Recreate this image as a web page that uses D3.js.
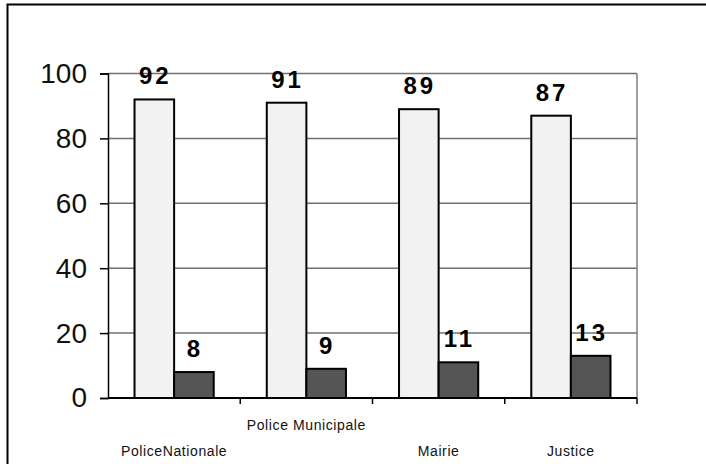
<!DOCTYPE html>
<html>
<head>
<meta charset="utf-8">
<script src="https://cdn.jsdelivr.net/npm/d3@7"></script>
<style>
  body { margin: 0; background: #fff; }
  svg { display: block; font-family: "Liberation Sans", Arial, sans-serif; }
</style>
</head>
<body>
<div class="chart"></div>
<script>
var categories = ["PoliceNationale", "Police Municipale", "Mairie", "Justice"];
var oui = [92, 91, 89, 87];
var non = [8, 9, 11, 13];
var yTicks = [0, 20, 40, 60, 80, 100];
// which category labels sit on the upper row
var raisedLabel = [false, true, false, false];

var w = 706, h = 464;
var margin = {left: 108, right: 69, top: 73.5, bottom: 66};

var svg = d3.select(".chart").append("svg")
    .attr("width", w)
    .attr("height", h);

// outer frame (only top/left show in the picture)
svg.append("rect")
    .attr("x", 7.5).attr("y", 4.5)
    .attr("width", w + 20).attr("height", h + 20)
    .attr("fill", "none").attr("stroke", "#000").attr("stroke-width", 2);

var x = d3.scaleBand()
    .domain(categories)
    .range([margin.left, w - margin.right]);

var y = d3.scaleLinear()
    .domain([0, 100])
    .range([h - margin.bottom, margin.top]);

var x1 = d3.scaleBand()
    .domain(["oui", "non"])
    .range([0, x.bandwidth()])
    .paddingOuter(0.67)
    .paddingInner(0);

// gridlines
svg.append("g").selectAll("line")
    .data(yTicks.filter(function(d) { return d > 0; }))
    .enter().append("line")
    .attr("x1", margin.left).attr("x2", w - margin.right)
    .attr("y1", function(d) { return y(d); })
    .attr("y2", function(d) { return y(d); })
    .attr("stroke", "#707070").attr("stroke-width", 1.5);

// right border of plot
svg.append("line")
    .attr("x1", w - margin.right).attr("x2", w - margin.right)
    .attr("y1", y(100)).attr("y2", y(0))
    .attr("stroke", "#808080").attr("stroke-width", 1.5);

// y axis
var yAxis = svg.append("g")
    .attr("transform", "translate(" + margin.left + ",0)")
    .call(d3.axisLeft(y).tickValues(yTicks).tickSize(8).tickPadding(13));
yAxis.select(".domain").attr("stroke", "#000").attr("stroke-width", 1.5);
yAxis.selectAll(".tick line").attr("stroke", "#000").attr("stroke-width", 1.5);
yAxis.selectAll("text")
    .attr("font-family", "Liberation Sans, Arial, sans-serif")
    .attr("font-size", 28).attr("fill", "#111");

var groups = svg.append("g").selectAll("g")
    .data(categories)
    .enter().append("g")
    .attr("transform", function(d) { return "translate(" + x(d) + ",0)"; });

function drawSeries(key, values, fill) {
    groups.append("rect")
        .attr("x", x1(key))
        .attr("width", x1.bandwidth())
        .attr("y", function(d, i) { return y(values[i]); })
        .attr("height", function(d, i) { return y(0) - y(values[i]); })
        .attr("fill", fill)
        .attr("stroke", "#000").attr("stroke-width", 2);
    groups.append("text")
        .attr("x", x1(key) + x1.bandwidth() / 2 + 1)
        .attr("y", function(d, i) { return y(values[i]) - 15; })
        .attr("text-anchor", "middle")
        .attr("font-size", 24).attr("font-weight", "bold")
        .attr("letter-spacing", 3)
        .text(function(d, i) { return values[i]; });
}
drawSeries("oui", oui, "#f2f2f2");
drawSeries("non", non, "#555555");

// x axis
var xAxis = svg.append("g")
    .attr("transform", "translate(0," + y(0) + ")");
xAxis.append("line")
    .attr("x1", margin.left).attr("x2", w - margin.right)
    .attr("stroke", "#000").attr("stroke-width", 2);
xAxis.selectAll(".tk")
    .data(categories)
    .enter().append("line")
    .attr("x1", function(d) { return x(d) + x.bandwidth(); })
    .attr("x2", function(d) { return x(d) + x.bandwidth(); })
    .attr("y1", 0).attr("y2", 6)
    .attr("stroke", "#000").attr("stroke-width", 1.5);
xAxis.selectAll("text")
    .data(categories)
    .enter().append("text")
    .attr("x", function(d) { return x(d) + x.bandwidth() / 2; })
    .attr("y", function(d, i) { return raisedLabel[i] ? 32 : 58; })
    .attr("text-anchor", "middle")
    .attr("font-size", 14).attr("letter-spacing", 0.6).attr("fill", "#111")
    .text(function(d) { return d; });
</script>
</body>
</html>
